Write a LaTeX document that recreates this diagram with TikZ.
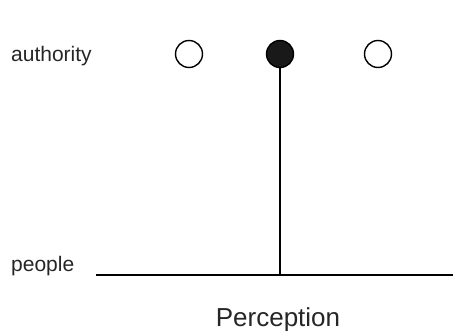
\documentclass[tikz,border=0pt]{standalone}
\usepackage{fontspec}
\setmainfont{Liberation Sans}
\usetikzlibrary{positioning}

\begin{document}
\begin{tikzpicture}[
  x=1pt,y=-1pt,
  label/.style={inner sep=0pt,font=\fontsize{21}{25}\selectfont,text=black!85},
  hollow/.style={circle,draw,line width=1.4pt,minimum size=27pt,inner sep=0pt},
  solid/.style={hollow,fill=black!90}
]
\useasboundingbox (0,0) rectangle (453,331);
\node[label,anchor=base west] (authority) at (11,62) {authority};
\node[label,anchor=base west] (people) at (11,272) {people};
\node[label,anchor=base,font=\fontsize{26}{31}\selectfont] (perception) at (278,327) {Perception};

\node[hollow] (left) at (189,54) {};
\node[solid] (mid) at (280,54) {};
\node[hollow] (right) at (378,54) {};

\coordinate (lineL) at (96,275);
\coordinate (lineR) at (453,275);
\coordinate (foot) at (280,275);
\draw[line width=2.6pt] (lineL) -- (lineR);
\draw[line width=1.2pt] (mid) -- (foot);
\end{tikzpicture}
\end{document}
